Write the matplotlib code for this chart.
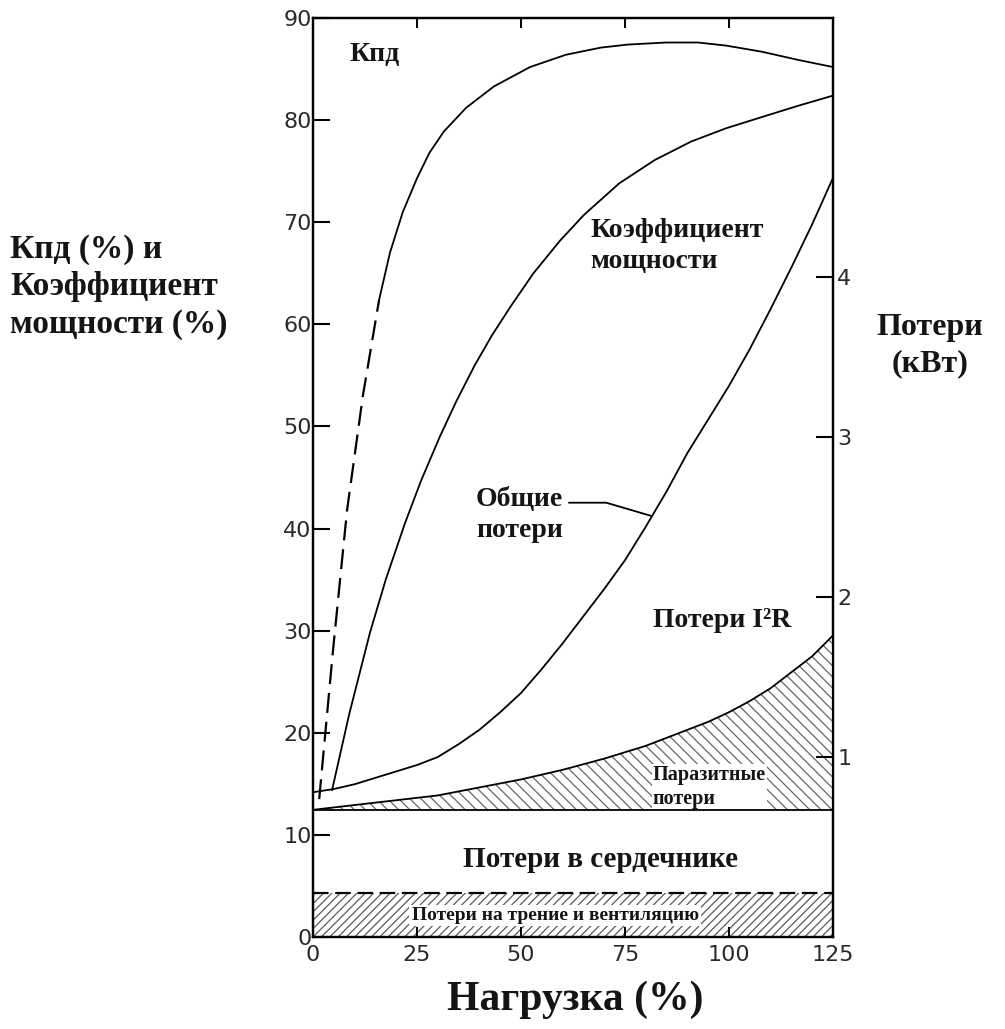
import numpy as np
import matplotlib.pyplot as plt

# Нагрузка (%) и КПД (%)
load_eff = [1.5, 4.8, 8.2, 12.0, 15.9, 18.5, 21.6, 25.0, 28.0, 31.5, 36.8, 43.5, 52.2, 60.8, 69.2,
            75.7, 84.9, 92.6, 99.3, 107.9, 116.6, 125]
eff = [13.5, 28.0, 41.8, 53.0, 62.4, 67.0, 71.0, 74.3, 76.8, 78.9, 81.2, 83.3, 85.2, 86.4, 87.1,
       87.4, 87.6, 87.6, 87.3, 86.7, 85.9, 85.2]
n_dash = 5  # первые точки КПД нарисованы пунктиром

# коэффициент мощности (%)
load_pf = [4.6, 8.7, 13.7, 17.5, 22.1, 26.0, 30.5, 34.5, 38.9, 43.0, 47.6, 53.0, 59.4, 65.1, 73.6,
           82.2, 90.9, 99.3, 107.9, 116.6, 125]
pf = [14.4, 21.8, 29.8, 35.0, 40.5, 44.7, 49.0, 52.5, 56.0, 58.9, 61.8, 65.0, 68.2, 70.7, 73.8,
      76.1, 77.9, 79.2, 80.3, 81.4, 82.4]

# потери (кВт)
load_loss = [0, 5, 10, 15, 20, 25, 30, 35, 40, 45, 50, 55, 60, 65, 70, 75, 80, 85, 90, 95, 100,
             105, 110, 115, 120, 125]
total_loss = [0.78, 0.80, 0.83, 0.87, 0.91, 0.95, 1.00, 1.08, 1.17, 1.28, 1.40, 1.55, 1.71, 1.88,
              2.05, 2.23, 2.44, 2.66, 2.90, 3.11, 3.32, 3.55, 3.80, 4.06, 4.33, 4.62]
stray_top = [0.67, 0.685, 0.70, 0.715, 0.73, 0.745, 0.76, 0.785, 0.81, 0.835, 0.86, 0.89, 0.92,
             0.955, 0.99, 1.03, 1.07, 1.12, 1.17, 1.22, 1.28, 1.35, 1.43, 1.53, 1.63, 1.76]
core_kw = 0.67
friction_pct = 4.3   # верх полосы трения, по левой шкале

serif = 'Liberation Serif'
plt.rcParams['hatch.linewidth'] = 0.9

fig = plt.figure(figsize=(10.05, 10.29), dpi=100)
ax = fig.add_axes([0.3114, 0.0894, 0.5174, 0.8931])
ax2 = ax.twinx()

ax.set_xlim(0, 125)
ax.set_ylim(0, 90)
ax2.set_ylim(-0.125, 5.62)

# полоса потерь на трение и вентиляцию
ax.fill_between([0, 125], 0, friction_pct, facecolor='white', edgecolor='0.35', hatch='////', linewidth=0)
ax.plot([0, 125], [friction_pct, friction_pct], color='black', lw=1.6, dashes=(7, 3))

# паразитные потери
ax2.fill_between(load_loss, core_kw, stray_top, facecolor='white', edgecolor='0.4', hatch='\\\\\\', linewidth=0)
ax2.axhline(core_kw, color='black', lw=1.3, zorder=5)
ax2.plot(load_loss, stray_top, color='black', lw=1.3)
ax2.plot(load_loss, total_loss, color='black', lw=1.3)

# КПД: начало пунктиром
ax.plot(load_eff[:n_dash], eff[:n_dash], color='black', lw=1.6, dashes=(9, 4))
ax.plot(load_eff[n_dash - 1:], eff[n_dash - 1:], color='black', lw=1.3)
ax.plot(load_pf, pf, color='black', lw=1.3)

# подписи внутри графика
bold = dict(family=serif, fontweight='bold', color='#151515')
ax.text(8.9, 86.4, 'Кпд', fontsize=20, va='center', **bold)
ax.text(66.6, 67.7, 'Коэффициент\nмощности', fontsize=20, va='center', linespacing=1.3, **bold)
ax.text(39.2, 41.3, 'Общие\nпотери', fontsize=20, va='center', linespacing=1.3, **bold)
ax.text(81.7, 31.0, 'Потери I²R', fontsize=20, va='center', **bold)
ax2.text(81.7, 14.7, 'Паразитные\nпотери', fontsize=14.5, va='center', linespacing=1.3, zorder=3,
         transform=ax.transData, bbox=dict(facecolor='white', edgecolor='none', pad=0.5), **bold)
ax.text(69.2, 7.6, 'Потери в сердечнике', fontsize=21, ha='center', va='center', **bold)
ax.text(58.2, 2.1, 'Потери на трение и вентиляцию', fontsize=14, ha='center', va='center',
        bbox=dict(facecolor='white', edgecolor='none', pad=1.5), **bold)

# выноска к кривой общих потерь
lead_x = 81.5
lead_y = np.interp(lead_x, load_loss, total_loss)
ax2.plot([61.6, 70.5, lead_x], [2.59, 2.59, lead_y], color='black', lw=1.3)

# оси и деления
ax.set_xticks([0, 25, 50, 75, 100, 125])
ax.set_yticks(range(0, 91, 10))
ax2.set_yticks([1, 2, 3, 4])
for a in (ax, ax2):
    for s in a.spines.values():
        s.set_linewidth(1.6)
ax.tick_params(axis='y', direction='in', length=12, width=1.5, labelsize=16, pad=1)
ax.tick_params(axis='x', direction='in', length=7, width=1.4, labelsize=16, pad=6, top=True)
ax2.tick_params(axis='y', direction='in', length=12, width=1.5, labelsize=16, pad=3)
for lab in ax.get_xticklabels() + ax.get_yticklabels() + ax2.get_yticklabels():
    lab.set_family('DejaVu Sans')
    lab.set_color('#2a2a2a')

fig.text(0.010, 0.721, 'Кпд (%) и\nКоэффициент\nмощности (%)', fontsize=24, ha='left', va='center',
         linespacing=1.26, **bold)
fig.text(0.925, 0.664, 'Потери\n(кВт)', fontsize=23, ha='center', va='center', linespacing=1.35, **bold)
fig.text(0.572, 0.028, 'Нагрузка (%)', fontsize=30, ha='center', va='center', **bold)

fig.savefig('out.png', dpi=100)
